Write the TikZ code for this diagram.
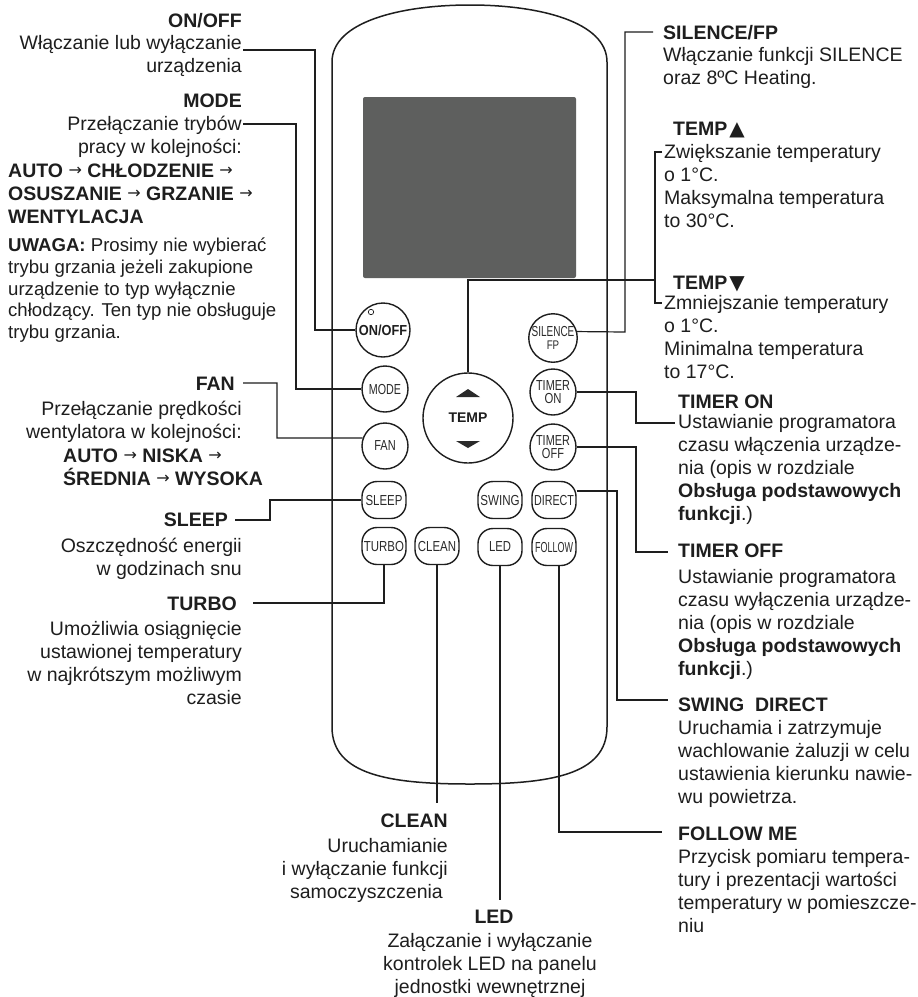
\documentclass[tikz,border=0pt]{standalone}
\usepackage{fontspec}
\setmainfont{Liberation Sans}
\newfontfamily\symf{DejaVu Sans}
\usetikzlibrary{calc}
\definecolor{ink}{HTML}{1E1E1E}
\definecolor{btn}{HTML}{2A2A2A}
\definecolor{screen}{HTML}{5E5F5E}
\newcommand\Rblk[1]{\vtop{\halign{\hfil##\cr#1\crcr}}}
\newcommand\Lblk[1]{\vtop{\halign{##\hfil\cr#1\crcr}}}
\newcommand\Cblk[1]{\vtop{\halign{\hfil##\hfil\cr#1\crcr}}}
\newcommand\arr{\raisebox{1.2pt}{\mdseries\symf\fontsize{16}{16}\selectfont →}}
\newcommand\tri[1]{{\symf\fontsize{20}{20}\selectfont #1}}
\newcommand\sq[2][0.78]{\scalebox{#1}[1]{#2}}
\tikzset{
  txt/.style={inner sep=0pt, text=ink, font=\fontsize{19.5}{23}\selectfont},
  hd/.style={inner sep=0pt, text=ink, font=\bfseries\fontsize{19.5}{23}\selectfont},
  note/.style={inner sep=0pt, text=ink, font=\fontsize{18.6}{21.75}\selectfont},
  lead/.style={draw=ink, line width=1.2pt},
  rbtn/.style={circle, draw=ink, line width=1.4pt, minimum size=46pt, inner sep=0pt, text=btn, font=\fontsize{14.5}{13}\selectfont, align=center},
  obtn/.style={rectangle, rounded corners=15pt, draw=ink, line width=1.4pt, minimum width=44pt, minimum height=37pt, inner sep=0pt, text=btn, font=\fontsize{14.5}{13}\selectfont},
}
\begin{document}
\begin{tikzpicture}[x=1pt,y=-1pt]
\fill[white] (0,0) rectangle (918,997);
\useasboundingbox (0,0) rectangle (918,997);

% remote body
\draw[ink, line width=1.5pt] (332,727) -- (332,62) .. controls (332,22) and (400,5) .. (470,5)
  .. controls (540,5) and (607,22) .. (607,62) -- (607,727)
  .. controls (607,775) and (550,784) .. (470,784)
  .. controls (390,784) and (332,775) .. (332,727) -- cycle;
\fill[screen, rounded corners=2pt] (363,97) rectangle (576,278);

% buttons
\node[rbtn, minimum size=54pt, text=ink, font=\bfseries\fontsize{14.5}{14}\selectfont] (onoff) at (383,330) {\sq[0.88]{ON/OFF}};
\draw[ink, line width=0.7pt] (371,312) circle (2.7);
\node[rbtn] (mode) at (385,389) {\sq[0.74]{MODE}};
\node[rbtn] (fan) at (385,446) {\sq[0.76]{FAN}};
\node[rbtn] (silence) at (553,338) {\sq[0.69]{SILENCE}\\\sq[0.78]{\fontsize{12.5}{12}\selectfont FP}};
\node[rbtn] (timeron) at (553,392) {\sq[0.75]{TIMER}\\\sq[0.78]{ON}};
\node[rbtn] (timeroff) at (553,447) {\sq[0.75]{TIMER}\\\sq[0.76]{OFF}};
\node[rbtn, minimum size=90pt, text=ink, font=\bfseries\fontsize{14}{14}\selectfont] (temp) at (468,418) {TEMP};
\fill[btn] (456,397) -- (480,397) -- (468,389) -- cycle;
\fill[btn] (456,441) -- (480,441) -- (468,448) -- cycle;
\node[obtn] (sleep) at (384,500) {\sq[0.79]{SLEEP}};
\node[obtn] (swing) at (500,500) {\sq[0.8]{SWING}};
\node[obtn] (direct) at (554,500) {\sq[0.74]{DIRECT}};
\node[obtn] (turbo) at (384,546) {\sq[0.79]{TURBO}};
\node[obtn] (clean) at (437,546) {\sq[0.79]{CLEAN}};
\node[obtn] (led) at (500,547) {\sq[0.78]{LED}};
\node[obtn] (follow) at (554,547) {\sq[0.62]{FOLLOW}};

% left texts
\node[hd, anchor=base east] (onoffh) at (242,27) {ON/OFF};
\node[txt, anchor=base east] (onoffd) at (242,49.5) {\Rblk{Włączanie lub wyłączanie\cr urządzenia}};
\node[hd, anchor=base east] (modeh) at (242,107) {MODE};
\node[txt, anchor=base east] (moded) at (242,130.5) {\Rblk{Przełączanie trybów\cr pracy w kolejności:}};
\node[hd, anchor=base west] (modeseq) at (8,177) {\Lblk{AUTO \arr{} CHŁODZENIE \arr\cr OSUSZANIE \arr{} GRZANIE \arr\cr WENTYLACJA}};
\node[note, anchor=base west] (uwaga) at (8,251.5) {\Lblk{\textbf{UWAGA:} Prosimy nie wybierać\cr trybu grzania jeżeli zakupione\cr urządzenie to typ wyłącznie\cr chłodzący. Ten typ nie obsługuje\cr trybu grzania.}};
\node[hd, anchor=base east] (fanh) at (235,390) {FAN};
\node[txt, anchor=base east] (fand) at (242,415) {\Rblk{Przełączanie prędkości\cr wentylatora w kolejności:}};
\node[hd, anchor=base west] (fanseq) at (63,462) {\Lblk{AUTO \arr{} NISKA \arr\cr ŚREDNIA \arr{} WYSOKA}};
\node[hd, anchor=base east] (sleeph) at (228,526) {SLEEP};
\node[txt, anchor=base east] (sleepd) at (242,552.5) {\Rblk{Oszczędność energii\cr w godzinach snu}};
\node[hd, anchor=base east] (turboh) at (237,610) {TURBO};
\node[txt, anchor=base east] (turbod) at (242,635.5) {\Rblk{Umożliwia osiągnięcie\cr ustawionej temperatury\cr w najkrótszym możliwym\cr czasie}};

% bottom texts
\node[hd, anchor=base east] (cleanh) at (448,827) {CLEAN};
\node[txt, anchor=base east] (cleand) at (448,852) {\Rblk{Uruchamianie\cr i wyłączanie funkcji\cr samoczyszczenia\hspace{5pt}}};
\node[hd, anchor=base] (ledh) at (494,923) {LED};
\node[txt, anchor=base] (ledd) at (490,947) {\Cblk{Załączanie i wyłączanie\cr kontrolek LED na panelu\cr jednostki wewnętrznej}};

% right texts
\node[hd, anchor=base west] (silh) at (663,39) {SILENCE/FP};
\node[txt, anchor=base west] (sild) at (663,61.5) {\Lblk{Włączanie funkcji SILENCE\cr oraz 8ºC Heating.}};
\node[hd, anchor=base west] (tuph) at (673,135) {TEMP\hspace{2pt}\tri{▲}};
\node[txt, anchor=base west] (tupd) at (664,158.5) {\Lblk{Zwiększanie temperatury\cr o 1°C.\cr Maksymalna temperatura\cr to 30°C.}};
\node[hd, anchor=base west] (tdnh) at (673,289) {TEMP\hspace{2pt}\tri{▼}};
\node[txt, anchor=base west] (tdnd) at (664,309.5) {\Lblk{Zmniejszanie temperatury\cr o 1°C.\cr Minimalna temperatura\cr to 17°C.}};
\node[hd, anchor=base west] (tonh) at (678,408) {TIMER ON};
\node[txt, anchor=base west] (tond) at (678,428.5) {\Lblk{Ustawianie programatora\cr czasu włączenia urządze-\cr nia (opis w rozdziale\cr \textbf{Obsługa podstawowych}\cr \textbf{funkcji}.)}};
\node[hd, anchor=base west] (toffh) at (678,557) {TIMER OFF};
\node[txt, anchor=base west] (toffd) at (678,583) {\Lblk{Ustawianie programatora\cr czasu wyłączenia urządze-\cr nia (opis w rozdziale\cr \textbf{Obsługa podstawowych}\cr \textbf{funkcji}.)}};
\node[hd, anchor=base west] (swh) at (678,711) {SWING\ \ DIRECT};
\node[txt, anchor=base west] (swd) at (678,734) {\Lblk{Uruchamia i zatrzymuje\cr wachlowanie żaluzji w celu\cr ustawienia kierunku nawie-\cr wu powietrza.}};
\node[hd, anchor=base west] (folh) at (678,840) {FOLLOW ME};
\node[txt, anchor=base west] (fold) at (678,863) {\Lblk{Przycisk pomiaru tempera-\cr tury i prezentacji wartości\cr temperatury w pomieszcze-\cr niu}};

% leader end points
\coordinate (onoffE) at (243,50);
\coordinate (modeE) at (243,124);
\coordinate (fanE) at (243,383);
\coordinate (sleepE) at (235,520);
\coordinate (turboE) at (253,603);
\coordinate (cleanE) at (437,803);
\coordinate (ledE) at (500,900);
\coordinate (followE) at (662,832);
\coordinate (directE) at (668,700);
\coordinate (toffE) at (668,552);
\coordinate (tonE) at (675,423);
\coordinate (silE) at (653,32);
\coordinate (tempE) at (655,280);
\coordinate (tUp) at (662,152);
\coordinate (tDn) at (662,303);

% leaders
\draw[lead] (onoff.west) -- (315,330) -- (315,50) -- (onoffE);
\draw[lead] (mode.west) -- (296,389) -- (296,124) -- (modeE);
\draw[lead] (fan.160) -- (277,438) -- (277,383) -- (fanE);
\draw[lead] (sleep.west) -- (270,500) -- (270,520) -- (sleepE);
\draw[lead] (turbo.south) -- (384,603) -- (turboE);
\draw[lead] (clean.south) -- (cleanE);
\draw[lead] (led.south) -- (ledE);
\draw[lead] ([xshift=5pt]follow.south) -- (559,832) -- (followE);
\draw[lead] ([yshift=9pt]direct.east) -- (617,491) -- (617,700) -- (directE);
\draw[lead] (timeroff.east) -- (636,447) -- (636,552) -- (toffE);
\draw[lead] (timeron.east) -- (636,392) -- (636,423) -- (tonE);
\draw[lead] (silence.15) -- (625,332) -- (625,32) -- (silE);
\draw[lead] (temp.north) -- (468,280) -- (tempE);
\draw[lead] (tUp) -- (655,152) -- (655,303) -- (tDn);
\end{tikzpicture}
\end{document}
